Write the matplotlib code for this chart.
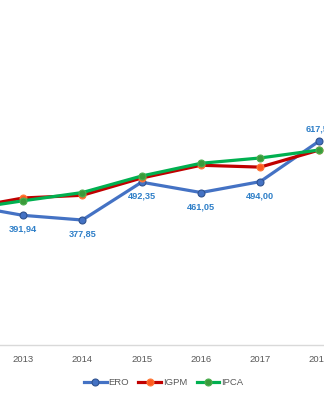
import matplotlib.pyplot as plt

anos = [2012, 2013, 2014, 2015, 2016, 2017, 2018]
ero = [424.0, 391.94, 377.85, 492.35, 461.05, 494.00, 617.50]
igpm = [412.0, 444.5, 452.7, 505.0, 543.6, 538.0, 590.0]
ipca = [409.0, 436.0, 461.0, 511.0, 549.6, 565.7, 590.0]
rotulos = ["391,94", "377,85", "492,35", "461,05", "494,00", "617,50"]

plt.rcParams['font.family'] = ['Liberation Sans', 'DejaVu Sans']

fig = plt.figure(figsize=(3.24, 4.0), dpi=100)
ax = fig.add_axes([0, 0.138, 1, 0.862])

ax.plot(anos, ero, color='#4472C4', linewidth=2.3, marker='o', markersize=5,
        markerfacecolor='#4472C4', markeredgecolor='#2F528F', markeredgewidth=0.8,
        label='ERO', zorder=3)
ax.plot(anos, igpm, color='#C00000', linewidth=2.3, marker='o', markersize=5,
        markerfacecolor='#FF5B1F', markeredgecolor='#FF7A3A', markeredgewidth=0.8,
        label='IGPM', zorder=4)
ax.plot(anos, ipca, color='#00B050', linewidth=2.3, marker='o', markersize=5,
        markerfacecolor='#3A9A3A', markeredgecolor='#4CAF50', markeredgewidth=0.8,
        label='IPCA', zorder=5)

# rótulos de dados da série ERO (a partir de 2013)
for i, (a, v, r) in enumerate(zip(anos[1:], ero[1:], rotulos)):
    dy = 12 if i == len(rotulos) - 1 else -14
    ax.annotate(r, (a, v), xytext=(0, dy), textcoords='offset pixels',
                ha='center', va='center', fontsize=6.6, fontweight='bold',
                color='#2E7FC8', annotation_clip=False)

ax.set_xlim(2012.612, 2018.076)
ax.set_ylim(0, 1044)
ax.set_xticks(anos[1:])
ax.set_xticklabels([str(a) for a in anos[1:]])
ax.set_yticks([])
for s in ['top', 'left', 'right']:
    ax.spines[s].set_visible(False)
ax.spines['bottom'].set_color('#D9D9D9')
ax.spines['bottom'].set_linewidth(1.0)
ax.tick_params(axis='x', length=0, pad=7, labelsize=6.8, labelcolor='#595959')

fig.legend(loc='center', bbox_to_anchor=(0.505, 0.043), ncol=3, frameon=False,
           fontsize=6.8, labelcolor='#595959', handlelength=2.4, handletextpad=0.2,
           columnspacing=1.0)

fig.savefig('out.png', dpi=100)
